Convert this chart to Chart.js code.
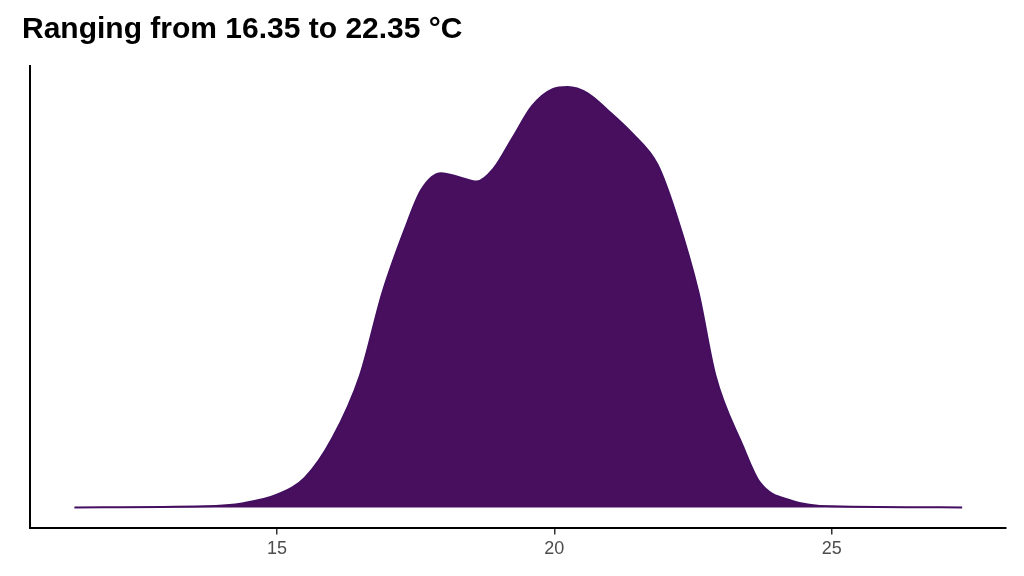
<!DOCTYPE html>
<html><head><meta charset="utf-8">
<script src="https://cdn.jsdelivr.net/npm/chart.js@4/dist/chart.umd.min.js"></script>
<style>html,body{margin:0;padding:0;background:#fff}#w{width:1024px;height:576px}</style>
</head><body><div id="w"><canvas id="c"></canvas></div>
<script>
const temps=[11.35,13.7,14.4,15,15.5,16,16.5,16.9,17.3,17.6,17.96,18.3,18.6,18.9,19.25,19.6,19.97,20.24,20.6,20.96,21.4,21.86,22.2,22.6,22.9,23.4,23.7,24.3,25,27.35];
const density=[0,0.0005,0.002,0.006,0.014,0.033,0.063,0.102,0.132,0.151,0.159,0.157,0.155,0.161,0.176,0.191,0.199,0.2,0.197,0.189,0.178,0.163,0.139,0.102,0.063,0.029,0.012,0.003,0.0005,0];
const xTicks=[15,20,25];
const titleText="Ranging from 16.35 to 22.35 °C";
new Chart(document.getElementById('c'),{
 type:'scatter',
 data:{datasets:[{data:temps.map((t,i)=>({x:t,y:density[i]})),showLine:true,tension:0.4,cubicInterpolationMode:'monotone',
  borderColor:'#440f60',borderWidth:2,backgroundColor:'#470f5d',fill:{value:0},pointRadius:0}]},
 options:{responsive:true,maintainAspectRatio:false,animation:false,
  layout:{padding:{left:22,right:18,top:0,bottom:12}},
  plugins:{legend:{display:false},tooltip:{enabled:false},
   title:{display:true,text:titleText,align:'start',color:'#000',font:{family:'Liberation Sans, Arial',size:30},padding:{top:12,bottom:18}}},
  scales:{
   x:{type:'linear',min:10.55,max:28.14,afterBuildTicks:a=>{a.ticks=xTicks.map(v=>({value:v}));},
    grid:{display:true,drawOnChartArea:false,tickLength:6,color:'#333',lineWidth:1.5},
    border:{display:true,color:'#000',width:2},
    ticks:{color:'#4d4d4d',font:{family:'Liberation Sans, Arial',size:18},padding:4}},
   y:{min:-0.01,max:0.21,ticks:{display:false},grid:{display:false},border:{display:true,color:'#000',width:2}}
  }}
});
</script></body></html>
